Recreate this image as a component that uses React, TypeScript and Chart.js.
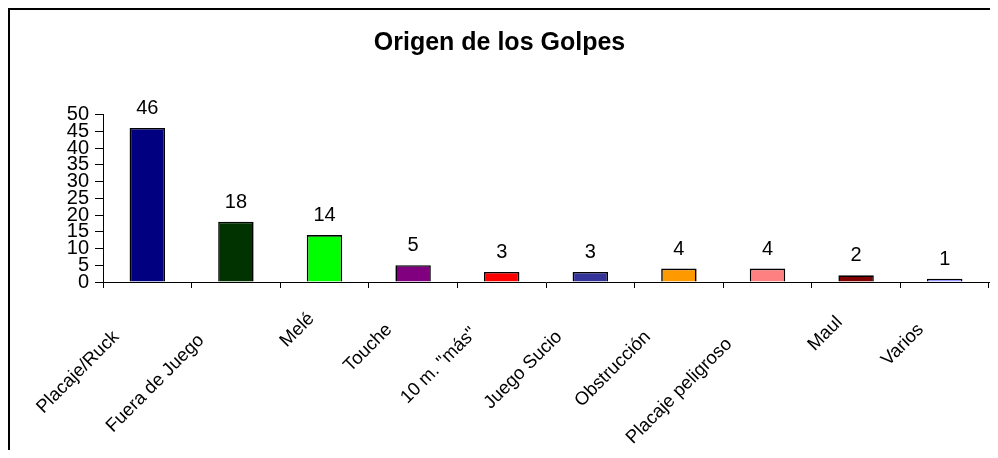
import { useEffect, useRef } from 'react';
import { Chart, registerables } from 'chart.js';

Chart.register(...registerables);

// ---- data ----
const categories = [
  'Placaje/Ruck',
  'Fuera de Juego',
  'Melé',
  'Touche',
  '10 m. "más"',
  'Juego Sucio',
  'Obstrucción',
  'Placaje peligroso',
  'Maul',
  'Varios',
];
const golpes = [46, 18, 14, 5, 3, 3, 4, 4, 2, 1];
const barColors = [
  '#000080',
  '#003300',
  '#00FF00',
  '#800080',
  '#FF0000',
  '#333399',
  '#FF9900',
  '#FF8080',
  '#800000',
  '#9999FF',
];
const titleText = 'Origen de los Golpes';
const yMin = 0;
const yMax = 50;
const yStep = 5;

// ---- style ----
const FONT = '"Liberation Sans", Arial, Helvetica, sans-serif';
// Excel-like staggering of rotated category labels (trailing spaces)
const LABEL_STAGGER = [5, 6, 0, 3, 4, 5, 5, 7, 1, 3];

const valueLabels = {
  id: 'valueLabels',
  afterDatasetsDraw(chart: any) {
    const ctx = chart.ctx;
    const meta = chart.getDatasetMeta(0);
    const data = chart.data.datasets[0].data;
    ctx.save();
    ctx.font = `20px ${FONT}`;
    ctx.fillStyle = '#000';
    ctx.textAlign = 'center';
    ctx.textBaseline = 'alphabetic';
    meta.data.forEach((el: any, i: number) => {
      ctx.fillText(String(data[i]), el.x, el.y - 14);
    });
    ctx.restore();
  },
};

export default function App() {
  const ref = useRef<HTMLCanvasElement | null>(null);

  useEffect(() => {
    if (!ref.current) return;
    const chart = new Chart(ref.current, {
      type: 'bar',
      data: {
        labels: categories,
        datasets: [
          {
            data: golpes,
            backgroundColor: barColors,
            borderColor: '#000',
            borderWidth: 1.6,
            barPercentage: 0.4,
            categoryPercentage: 1,
          },
        ],
      },
      options: {
        animation: false,
        responsive: false,
        devicePixelRatio: 1,
        layout: { padding: { left: 0, right: 22, top: 0, bottom: 0 } },
        plugins: {
          legend: { display: false },
          tooltip: { enabled: false },
          title: {
            display: true,
            text: titleText,
            color: '#000',
            font: { family: FONT, size: 25, weight: 'bold' },
            padding: { top: 18, bottom: 56.5 },
          },
        },
        scales: {
          x: {
            grid: { drawOnChartArea: false, tickLength: 6, color: '#000', offset: true },
            border: { color: '#000', width: 1 },
            ticks: {
              color: '#000',
              font: { family: FONT, size: 18.5 },
              minRotation: 45,
              maxRotation: 45,
              autoSkip: false,
              padding: 20,
              labelOffset: -13,
              callback: (_v: any, i: number) => categories[i] + ' '.repeat(LABEL_STAGGER[i]),
            },
            afterFit: (s: any) => {
              s.height = 168;
            },
          },
          y: {
            min: yMin,
            max: yMax,
            grid: { drawOnChartArea: false, tickLength: 8, color: '#000' },
            border: { color: '#000', width: 1 },
            ticks: {
              stepSize: yStep,
              autoSkip: false,
              color: '#000',
              font: { family: FONT, size: 20 },
              padding: 6,
            },
            afterFit: (s: any) => {
              s.width = 93;
            },
          },
        },
      },
      plugins: [valueLabels],
    } as any);
    return () => chart.destroy();
  }, []);

  return (
    <div
      style={{
        width: 980,
        height: 440,
        overflow: 'hidden',
        borderTop: '2px solid #000',
        borderLeft: '2px solid #000',
        background: '#fff',
      }}
    >
      <canvas ref={ref} width={1001} height={440} style={{ display: 'block' }} />
    </div>
  );
}
